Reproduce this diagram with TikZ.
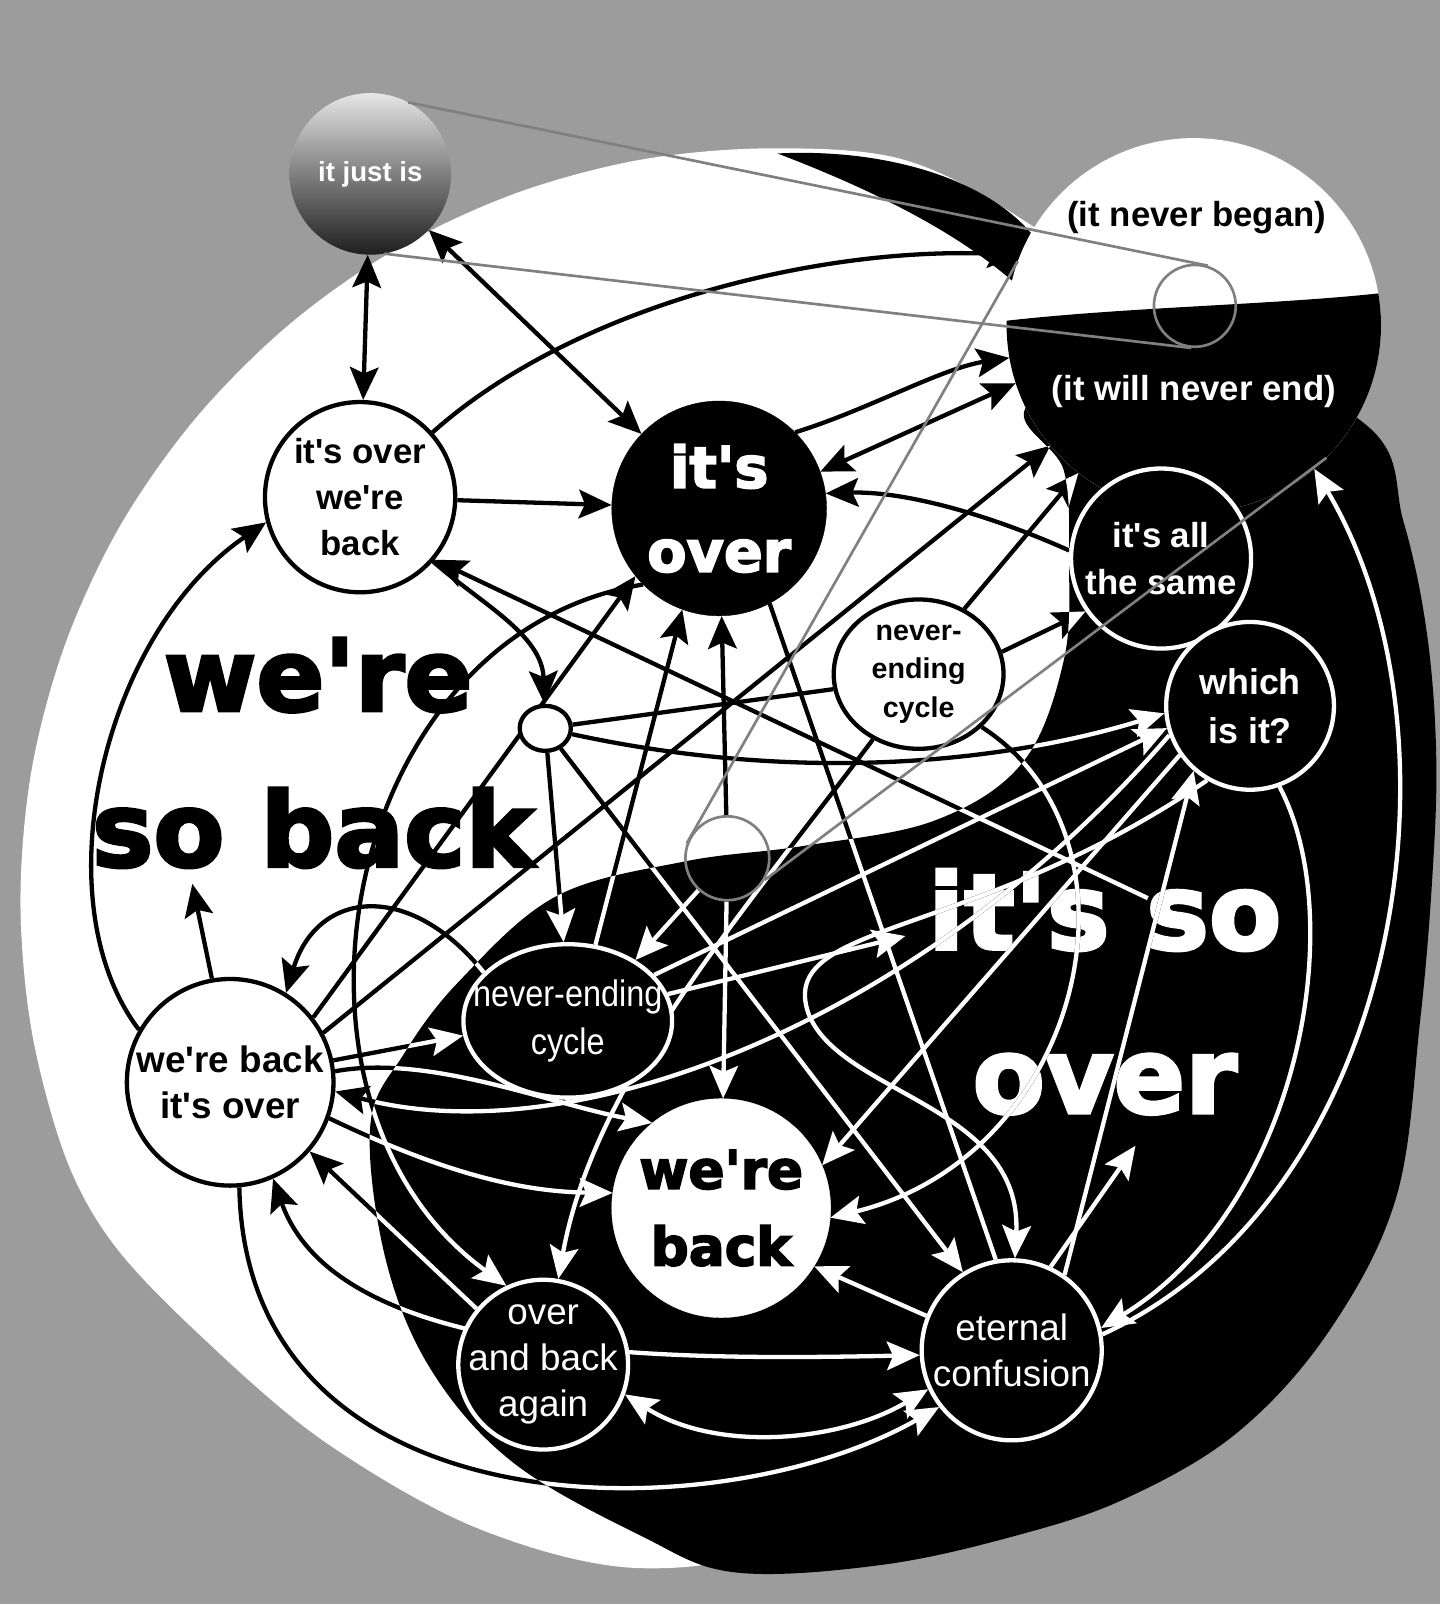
\documentclass[tikz,border=0pt]{standalone}
\usepackage{fontspec}
\usepackage{graphicx}
\newfontfamily\plainfont{Liberation Sans}
\newfontfamily\heavyfont{DejaVu Sans}[FakeBold = 3]
\usetikzlibrary{arrows.meta,shapes.geometric}

\definecolor{bggray}{RGB}{156,156,156}
\definecolor{eyegray}{RGB}{128,128,128}

\pgfdeclarelayer{regions}
\pgfdeclarelayer{links}
\pgfsetlayers{regions,links,main}

\tikzset{
  lk/.style = {line width = 4.2pt, -{Stealth[length = 32pt, width = 28pt, inset = 6pt]}},
  lkboth/.style = {line width = 4.2pt, {Stealth[length = 32pt, width = 28pt, inset = 6pt]}-{Stealth[length = 32pt, width = 28pt, inset = 6pt]}},
  lkbare/.style = {line width = 4.2pt},
  wstate/.style = {circle, draw = black, fill = white, text = black, line width = 4.2pt, align = center, inner sep = 0pt},
  bstate/.style = {circle, draw = white, fill = black, text = white, line width = 4.2pt, align = center, inner sep = 0pt},
  lensline/.style = {draw = eyegray, line width = 2.6pt}
}

\newcommand\bodypath{plot[smooth cycle, tension = 0.6] coordinates {(1150, 330) (1335, 415) (1372, 510) (1395, 620) (1404, 740) (1400, 860) (1388, 1000) (1365, 1170) (1300, 1300) (1210, 1400) (1100, 1465) (990, 1502) (860, 1530) (718, 1537) (628, 1502) (502, 1430) (422, 1340) (377, 1231) (362, 1100) (395, 1030) (450, 958) (544, 876) (670, 842) (785, 827) (914, 802) (1000, 745) (1040, 645) (1045, 548) (1040, 460) (1005, 395)}}

\newcommand\whitepath{plot[smooth cycle, tension = 0.55] coordinates {(20, 880) (31, 752) (64, 629) (118, 513) (192, 408) (283, 317) (388, 243) (504, 189) (627, 156) (755, 145) (883, 156) (1000, 215) (1150, 330) (1300, 600) (1330, 1000) (1150, 1350) (800, 1500) (628, 1533) (467, 1494) (314, 1407) (190, 1300) (110, 1215) (64, 1131) (31, 1008)}}

\newcommand\linkset{%
  \draw[lkboth] (justis) -- (overback);
  \draw[lkboth] (justis) -- (itsover);
  \draw[lk] (overback) -- (itsover);
  \draw[lk] (overback) .. controls (560, 300) and (800, 240) .. (lens.158);
  \draw[lk] (overback) .. controls (470, 590) and (530, 620) .. (hub);
  \draw[lk] (backover.150) .. controls (40, 880) and (100, 620) .. (overback.195);
  \draw[lk] (sotip) -- (overback.-40);
  \draw[lk] (backover.38) -- (itsover.219);
  \draw[lk] (backover.100) -- (sobackfoot);
  \draw[lk] (cycleB.150) .. controls (400, 860) and (310, 870) .. (backover.58);
  \draw[lk] (itsover.225) .. controls (330, 620) and (250, 1080) .. (overagain.115);
  \draw[lkboth] (itsover.20) -- (lens.198);
  \draw[lk] (itsover.45) .. controls (850, 400) and (920, 360) .. (lens.190);
  \draw[lk] (eye) -- (itsover);
  \draw[lk] (cycleB.70) -- (itsover.250);
  \draw[lkbare] (itsover.-62) -- (confusion.100);
  \draw[lk] (allsame.175) .. controls (960, 500) and (880, 480) .. (itsover.8);
  \draw[lk] (hub) -- (cycleB.93);
  \draw[lk] (hub) -- (confusion.122);
  \draw[lkbare] (hub) -- (cycleA.190);
  \draw[lk] (hub) .. controls (800, 770) and (1000, 740) .. (whichis.185);
  \draw[lk] (cycleA.15) -- (allsame.215);
  \draw[lk] (cycleA.55) -- (lens.232);
  \draw[lk] (backover.28) -- (lens.220);
  \draw[lk] (cycleA.-40) .. controls (1130, 820) and (1060, 1130) .. (weback.-5);
  \draw[lk] (cycleA.235) .. controls (720, 900) and (580, 1060) .. (overagain.80);
  \draw[lk] (backover.12) -- (cycleB.188);
  \draw[lk] (backover.6) .. controls (420, 1030) and (540, 1080) .. (weback.129);
  \draw[lk] (backover.-20) .. controls (420, 1140) and (500, 1165) .. (weback.172);
  \draw[lk] (whichis.200) .. controls (900, 1000) and (560, 1130) .. (backover.-5);
  \draw[lk] (overagain.140) -- (backover.-41);
  \draw[lkboth] (backover.-66) .. controls (330, 1330) and (650, 1330) .. (confusion.183);
  \draw[lk] (backover.-85) .. controls (240, 1500) and (700, 1500) .. (confusion.218);
  \draw[lkboth] (overagain.-20) .. controls (700, 1420) and (820, 1410) .. (confusion.205);
  \draw[lk] (cycleB.15) -- (itsfoot);
  \draw[lk] (cycleB.28) -- (whichis.195);
  \draw[lk] (eye) -- (cycleB.42);
  \draw[lk] (eye) -- (weback);
  \draw[lk] (confusion.10) .. controls (1370, 1170) and (1440, 720) .. (lens.310);
  \draw[lk] (whichis.290) .. controls (1320, 900) and (1270, 1180) .. (confusion.14);
  \draw[lk] (confusion.55) -- (whichis.229);
  \draw[lk] (confusion.65) -- (overfoot);
  \draw[lk] (confusion.158) -- (weback.-32);
  \draw[lk] (whichis.215) -- (weback.23);
  \draw[lk] (whichis.240) .. controls (950, 920) and (760, 900) .. (790, 990) .. controls (820, 1070) and (1000, 1080) .. (confusion.88);
}

\begin{document}
\begin{tikzpicture}[x = 1pt, y = -1pt]
\useasboundingbox (0, 0) rectangle (1408, 1568);

\node[circle, minimum size = 158pt, inner sep = 0pt, top color = black!10, bottom color = black!88, middle color = black!50, text = white, font = \plainfont\bfseries\fontsize{27}{30}\selectfont] (justis) at (362, 170) {it just is};
\node[wstate, minimum size = 186pt, font = \plainfont\bfseries\fontsize{34}{45}\selectfont] (overback) at (352, 486) {it's over\\we're\\back};
\node[circle, draw = black, fill = black, text = white, minimum size = 210pt, inner sep = 0pt, align = center, font = \heavyfont\bfseries\fontsize{56}{82}\selectfont] (itsover) at (703, 497) {it's\\over};
\node[ellipse, draw = black, fill = white, line width = 4.2pt, minimum width = 50pt, minimum height = 44pt] (hub) at (533, 712) {};
\node[ellipse, draw = black, fill = white, line width = 4.2pt, minimum width = 166pt, minimum height = 146pt, inner sep = 0pt, align = center, font = \plainfont\bfseries\fontsize{28}{38}\selectfont] (cycleA) at (898, 659) {never-\\ending\\cycle};
\node[bstate, minimum size = 176pt, font = \plainfont\bfseries\fontsize{34}{46}\selectfont] (allsame) at (1135, 546) {it's all\\the same};
\node[bstate, minimum size = 164pt, font = \plainfont\bfseries\fontsize{35}{48}\selectfont] (whichis) at (1222, 690) {which\\is it?};
\node[ellipse, draw = white, fill = black, text = white, line width = 4.2pt, minimum width = 204pt, minimum height = 150pt, inner xsep = -22pt, inner ysep = 0pt, align = center, font = \plainfont\fontsize{36}{47}\selectfont] (cycleB) at (555, 998) {\scalebox{0.88}[1]{never-ending}\\\scalebox{0.88}[1]{cycle}};
\node[wstate, minimum size = 202pt, font = \plainfont\bfseries\fontsize{36}{45}\selectfont] (backover) at (225, 1058) {we're back\\it's over};
\node[circle, draw = white, fill = white, text = black, minimum size = 214pt, inner sep = 0pt, align = center, font = \heavyfont\bfseries\fontsize{52}{75}\selectfont] (weback) at (705, 1181) {we're\\back};
\node[bstate, minimum size = 166pt, inner sep = -16pt, font = \plainfont\fontsize{36}{45}\selectfont] (overagain) at (531, 1334) {over\\and back\\again};
\node[bstate, minimum size = 176pt, inner sep = -6pt, font = \plainfont\fontsize{36}{45}\selectfont] (confusion) at (989, 1320) {eternal\\confusion};
\node[circle, draw = eyegray, line width = 2.6pt, minimum size = 82pt, inner sep = 0pt] (eye) at (711, 839) {};
\node[circle, minimum size = 366pt, inner sep = 0pt] (lens) at (1167, 318) {};
\node[circle, draw = eyegray, line width = 2.6pt, minimum size = 80pt, inner sep = 0pt] (pupil) at (1168, 299) {};
\node[text = black, font = \plainfont\bfseries\fontsize{34}{40}\selectfont] (began) at (1170, 213) {(it never began)};
\node[text = white, font = \plainfont\bfseries\fontsize{34}{40}\selectfont] (neverend) at (1167, 383) {(it will never end)};

\coordinate (sotip) at (1122, 878);
\coordinate (itsfoot) at (885, 915);
\coordinate (overfoot) at (1110, 1120);
\coordinate (sobackfoot) at (188, 864);

\draw[lensline] (justis.62) -- (pupil.72);
\draw[lensline] (justis.-80) -- (pupil.-95);
\draw[lensline] (eye.160) -- (lens.160);
\draw[lensline] (eye.-30) -- (lens.-45);

\begin{pgfonlayer}{regions}
\fill[bggray] (0, 0) rectangle (1408, 1568);
\fill[white] \whitepath;
\fill[black] \bodypath;
\fill[black] (760, 150) .. controls (860, 145) and (960, 172) .. (1008, 228) -- (1008, 292) .. controls (955, 238) and (870, 192) .. (760, 150) -- cycle;
\fill[white] (lens.center) circle (183pt);
\begin{scope}
\clip (lens.center) circle (183pt);
\fill[black] (980, 314) .. controls (1100, 300) and (1250, 298) .. (1355, 286) -- (1355, 520) -- (980, 520) -- cycle;
\end{scope}
\node[anchor = base, inner sep = 0pt, text = black, font = \heavyfont\bfseries\fontsize{98}{98}\selectfont] (wereword) at (311, 695) {we're};
\node[anchor = base, inner sep = 0pt, text = black, font = \heavyfont\bfseries\fontsize{101}{101}\selectfont] (sobackword) at (306, 847) {so back};
\node[anchor = base, inner sep = 0pt, text = white, font = \heavyfont\bfseries\fontsize{103}{103}\selectfont] (itssoword) at (1080, 928) {it's so};
\node[anchor = base, inner sep = 0pt, text = white, font = \heavyfont\bfseries\fontsize{103}{103}\selectfont] (overword) at (1080, 1088) {over};
\end{pgfonlayer}

\begin{pgfonlayer}{links}
\begin{scope}[black]
\linkset
\end{scope}
\begin{scope}[white]
\clip \bodypath;
\linkset
\end{scope}
\end{pgfonlayer}
\end{tikzpicture}
\end{document}
